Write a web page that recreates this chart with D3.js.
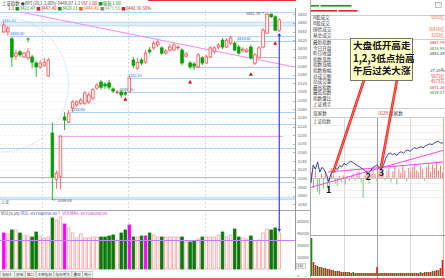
<html>
<head>
<meta charset="utf-8">
<script src="https://d3js.org/d3.v7.min.js"></script>
<style>
  body { margin: 0; background: #fff; }
  svg { display: block; font-family: "Noto Sans CJK SC", "Noto Sans", sans-serif; }
</style>
</head>
<body>
<script>
// ---------- 日K数据 ----------
var kOpen  = [3439,3439,3423,3383,3393,3381,3379,3381,3367,3358,3362,3337,3205,3098,3105,3242,3230,3263,3270,3274,3274,3277,3286,3309,3323,3318,3321,3307,3298,3300,3298,3300,3374,3355,3374,3369,3397,3402,3409,3402,3390,3397,3397,3402,3397,3383,3367,3365,3358,3379,3367,3381,3393,3404,3420,3404,3413,3413,3404,3395,3393,3404,3367,3379,3404,3436,3480,3474,3443];
var kClose = [3455,3448,3381,3390,3386,3390,3393,3369,3358,3367,3369,3374,3103,3112,3198,3235,3251,3277,3277,3281,3298,3293,3305,3316,3311,3314,3311,3302,3300,3293,3295,3332,3362,3369,3367,3390,3393,3413,3416,3390,3395,3404,3409,3404,3367,3388,3358,3360,3386,3367,3381,3402,3402,3409,3404,3420,3425,3397,3390,3399,3397,3379,3386,3402,3443,3480,3474,3443,3467];
var kHigh  = [3462,3453,3427,3397,3397,3393,3402,3386,3372,3374,3379,3379,3230,3118,3200,3253,3258,3281,3281,3286,3302,3300,3309,3321,3328,3323,3328,3311,3305,3305,3302,3337,3381,3379,3379,3397,3404,3418,3420,3406,3399,3411,3413,3409,3402,3393,3372,3369,3390,3383,3386,3406,3406,3413,3425,3425,3430,3418,3409,3404,3402,3409,3390,3406,3448,3482.79,3482,3478,3471];
var kLow   = [3436,3430,3358,3374,3381,3379,3374,3355,3335,3353,3358,3335,3049.88,3076,3075,3212,3228,3253,3265,3270,3270,3272,3281,3305,3305,3307,3305,3298,3295,3286,3291,3298,3355,3351,3362,3365,3388,3397,3404,3386,3386,3393,3395,3397,3362,3379,3353,3351,3355,3362,3365,3379,3388,3399,3399,3402,3409,3395,3386,3393,3390,3374,3362,3376,3402,3434,3471,3441,3439];
var kVol   = [459,447,498,498,459,434,421,408,472,421,396,408,651,625,663,574,523,459,396,447,396,396,408,408,408,408,421,434,370,459,498,561,408,408,421,421,459,434,408,408,408,408,408,408,408,345,345,357,383,408,408,408,408,434,472,408,434,510,408,396,383,421,357,370,459,510,498,523,459]; // 百万
var volHot = [0, 15, 31, 35];
var volRef = 370;
var priceTicks = d3.range(3040, 3481, 20);
var volTicks = [150, 300, 450, 600];
var monthStart = [10, 31, 50];

// 支撑/压力线
var blueLv    = [3485.5, 3430.3, 3418.61, 3332.13, 3300.86, 3253.86, 3226, 3170, 3091.5];
var blueFrom  = [null, 2, 58, 31, 29, 17, null, null, null];
var blueLabel = ["", "3430.30", "3418.61", "3332.13", "3300.86", "3253.86", "", "", ""];
var bandTop = [3461.61, 3055];
var bandBot = [3453, 3050.5];
var pinkLv = [3198, 3358];
var pinkFrom = [14, 47];
var grayLv = [3103, 3381];
var grayFrom = [null, 61];
var trendIdx = [4.2, 71.7];
var trendPrice = [3485, 3358];
var ringCenter = [-0.75, 3318];
var ringRadius = [16.7, 157];
var upMarkIdx = [30, 46, 61, 67];
var upMarkPrice = [3283, 3323, 3341, 3413];
var dnMarkIdx = [6];
var dnMarkPrice = [3421];

var titleRow1 = ["上证指数", " ◆BYT(20,1,1,005) 3448.07 1.1", "  VIZ 1.00", "  ■强弱 1.00"];
var titleRow2 = ["1.1 ", "■3421.47 ", "■3447.40 ", "■3420.11 ", "■3444.40 ", "■3471.55 ", "■3440.36 50%"];
var volTitle = ["VOL(5,10) ", "VOL: 457346058.00", "↑ ", "VOLMA5: 457346058.00"];
var tabs = ["指标A", "模板", "窗口", "主图指标", "指标用法", "叠加", "统计"];

// ---------- 右侧行情表 ----------
var statTop = ["A股成交", "B股成交", "国债成交", "基金成交"];
var statTopVal = ["5861亿", "", "16416亿", "3292亿"];
var statMain = ["最新指数", "今日开盘", "昨日收盘", "指数涨跌", "指数涨幅", "指数振幅", "总成交额", "总成交量", "最高指数", "最低指数", "指数量比", "上证换手"];
var statMainVal = ["3467.79", "3435.95", "3443.29", "", "", "27.35%", "5671亿", "4573万", "3471.26", "3439.87", "", ""];
var statMainDir = [1, -1, 0, 0, 0, 0, 1, 1, 1, -1, 0, 0];
var upCount = 1629;
var greenBar = [200, 775];
var redBar = [650, 475];

// ---------- 分时 ----------
var prevClose = 3443.4;
var iPrice = [3440.0,3452.4,3449.5,3454.4,3447.5,3450.8,3449.0,3446.0,3441.0,3445.8,3448.5,3450.3,3449.2,3452.0,3451.0,3453.5,3452.3,3453.8,3455.0,3454.2,3453.0,3452.0,3451.2,3450.0,3449.0,3447.8,3446.5,3448.2,3450.5,3451.5,3452.4,3450.5,3449.6,3452.6,3457.0,3459.8,3460.7,3459.5,3460.2,3459.0,3460.8,3461.5,3460.5,3462.0,3462.7,3461.8,3463.0,3464.3,3463.6,3464.5,3465.0,3464.2,3465.6,3466.2,3467.0,3466.4,3467.4,3468.3,3468.6,3467.5,3467.6]; // 每4分钟
var breadth = [10,-18,14,-25,-30,8,-20,12,-15,-22,18,6,-10,-14,4,-8,5,-12,3,-6,4,8,-5,10,12,-8,-36,6,14,-10,9,16,8,-6,12,20,10,-4,14,18,-8,12,22,-12,16,10,24,14,-6,18,12,20,26,14,10,22,16,-5,20,28,12,24,18,30,14,22,10];
var iVol = [-38,14,-11,10,-9,9,-8,8,-7,7,6,-6,5,-5,5,4,-4,4,-4,4,3,-4,3,-3,3,3,-3,3,-3,3,3,-3,3,9,-3,3,-3,3,3,-3,3,3,-3,3,-3,3,3,-3,3,-3,3,3,-3,3,3,-4,3,4,-4,4,4,-5,5,6,-6,8,16];
var iTrendA = [[0, 3437], [240, 3462.4]];
var iTrendB = [[31, 3447.5], [240, 3454.4]];
var lowMin = [32, 104, 128];
var lowLabelPrice = [3435.1, 3444.3, 3447.2];
var lowText = ["1", "2", "3"];
var calloutMin = [40, 127];
var calloutPrice = [3446.9, 3450.3];
var calloutText = ["大盘低开高走", "1,2,3低点抬高", "午后过关大涨"];

// =====================================================
var svg = d3.select("body").append("svg")
    .attr("width", 445).attr("height", 280);
svg.append("rect").attr("width", 445).attr("height", 280).attr("fill", "#fff");

var upC = "#ff4a4a", dnC = "#00a000", lvBlue = "#a9d0f5";

var x = d3.scaleBand().domain(d3.range(kOpen.length)).range([1, 282]).padding(0.36);
function cx(i) { return x(i) + x.bandwidth() / 2; }
var xi = d3.scaleLinear().domain([0, kOpen.length - 1]).range([cx(0), cx(kOpen.length - 1)]);
var y = d3.scaleLinear().domain([3040, 3490]).range([204.3, 9.9]);
var yv = d3.scaleLinear().domain([0, 740]).range([269, 211]);

svg.append("clipPath").attr("id", "mainClip")
    .append("rect").attr("x", 0).attr("y", 8).attr("width", 295).attr("height", 202);
svg.append("clipPath").attr("id", "volClip")
    .append("rect").attr("x", 0).attr("y", 211).attr("width", 295).attr("height", 59);

// 顶部红线
svg.append("line").attr("x1", 148).attr("x2", 296).attr("y1", 0.5).attr("y2", 0.5)
    .attr("stroke", "#e03030").attr("stroke-width", 1.2);

function rich(xp, yp, parts, cols, size) {
    var t = svg.append("text").attr("x", xp).attr("y", yp).style("font-size", size + "px");
    parts.forEach(function(p, k) { t.append("tspan").attr("fill", cols[k]).text(p); });
    return t;
}
rich(2, 5, titleRow1, ["#333", "#444", "#e02020", "#189018"], 4.4);
rich(8, 9.6, titleRow2, ["#333", "#189018", "#e02020", "#189018", "#e07010", "#888", "#e02020"], 4.4);

var main = svg.append("g").attr("clip-path", "url(#mainClip)");

// 网格
main.selectAll(".grid").data(priceTicks).enter().append("line")
    .attr("x1", 0).attr("x2", 295)
    .attr("y1", function(d) { return Math.round(y(d)) + 0.5; })
    .attr("y2", function(d) { return Math.round(y(d)) + 0.5; })
    .attr("stroke", "#f1f1f1").attr("stroke-dasharray", "2,2");

// 月份分隔虚线
svg.selectAll(".month").data(monthStart).enter().append("line")
    .attr("x1", function(d) { return Math.round(x(d) - 0.5) + 0.5; })
    .attr("x2", function(d) { return Math.round(x(d) - 0.5) + 0.5; })
    .attr("y1", 10).attr("y2", 270)
    .attr("stroke", "#cfcfcf").attr("stroke-dasharray", "2,2").attr("stroke-width", 0.8);

// 浅蓝带
bandTop.forEach(function(t, k) {
    main.append("rect").attr("x", 0).attr("width", 295)
        .attr("y", y(t)).attr("height", y(bandBot[k]) - y(t))
        .attr("fill", "#e3f0fd").attr("stroke", lvBlue).attr("stroke-width", 0.8);
});
svg.append("text").attr("x", 2).attr("y", y(bandTop[0]) - 0.6).style("font-size", "4px")
    .attr("fill", "#5a8fd0").text(d3.format(".2f")(bandTop[0]));

// 蓝色水平线
blueLv.forEach(function(p, k) {
    var x0 = blueFrom[k] === null ? 0 : x(blueFrom[k]) - 1;
    var yy = Math.round(y(p)) + 0.5;
    main.append("line").attr("x1", x0).attr("x2", 295).attr("y1", yy).attr("y2", yy)
        .attr("stroke", lvBlue).attr("stroke-width", 1.1);
    if (blueLabel[k]) {
        main.append("rect").attr("x", x0).attr("y", yy - 5).attr("width", 13).attr("height", 4.2)
            .attr("fill", "#e8f2fd");
        main.append("text").attr("x", x0 + 0.5).attr("y", yy - 1.6).style("font-size", "3.9px")
            .attr("fill", "#4f86c9").text(blueLabel[k]);
    }
});
pinkLv.forEach(function(p, k) {
    var yy = Math.round(y(p)) + 0.5;
    main.append("line").attr("x1", x(pinkFrom[k]) - 1).attr("x2", k === 0 ? 283 : cx(68))
        .attr("y1", yy).attr("y2", yy).attr("stroke", "#f7a6f0").attr("stroke-width", 1);
});
grayLv.forEach(function(p, k) {
    var yy = Math.round(y(p)) + 0.5;
    main.append("line").attr("x1", grayFrom[k] === null ? 0 : x(grayFrom[k]) - 1)
        .attr("x2", grayFrom[k] === null ? 295 : cx(68))
        .attr("y1", yy).attr("y2", yy).attr("stroke", "#b8b8b8").attr("stroke-width", 1);
});

// 虚线圆
var ring = d3.range(0, 361, 3).map(function(a) {
    var t = a * Math.PI / 180;
    return [xi(ringCenter[0] + ringRadius[0] * Math.cos(t)), y(ringCenter[1] + ringRadius[1] * Math.sin(t))];
});
main.append("path").attr("d", d3.line()(ring)).attr("fill", "none")
    .attr("stroke", "#9cc7ef").attr("stroke-width", 0.8).attr("stroke-dasharray", "1,1.5");

// 下降趋势线
main.append("line")
    .attr("x1", xi(trendIdx[0])).attr("y1", y(trendPrice[0]))
    .attr("x2", xi(trendIdx[1])).attr("y2", y(trendPrice[1]))
    .attr("stroke", "#f08cf0").attr("stroke-width", 1);

// K线
var k = main.selectAll(".k").data(kOpen).enter().append("g");
k.append("line")
    .attr("x1", function(d, i) { return cx(i); }).attr("x2", function(d, i) { return cx(i); })
    .attr("y1", function(d, i) { return y(kHigh[i]); }).attr("y2", function(d, i) { return y(kLow[i]); })
    .attr("stroke", function(d, i) { return kClose[i] >= kOpen[i] ? upC : dnC; }).attr("stroke-width", 0.8);
k.append("rect")
    .attr("x", function(d, i) { return x(i); })
    .attr("y", function(d, i) { return y(Math.max(kOpen[i], kClose[i])); })
    .attr("width", x.bandwidth())
    .attr("height", function(d, i) { return Math.max(0.8, Math.abs(y(kOpen[i]) - y(kClose[i]))); })
    .attr("fill", function(d, i) { return kClose[i] >= kOpen[i] ? "#fff" : dnC; })
    .attr("stroke", function(d, i) { return kClose[i] >= kOpen[i] ? upC : dnC; })
    .attr("stroke-width", 0.8);

// 标记
upMarkIdx.forEach(function(i, n) {
    var px = cx(i), py = y(upMarkPrice[n]);
    main.append("path").attr("d", "M" + px + "," + (py - 2) + "L" + (px + 2) + "," + (py + 1.5) + "L" + (px - 2) + "," + (py + 1.5) + "Z")
        .attr("fill", "#e80000");
});
dnMarkIdx.forEach(function(i, n) {
    var px = cx(i), py = y(dnMarkPrice[n]);
    main.append("path").attr("d", "M" + px + "," + (py - 2.5) + "L" + (px + 2) + "," + py + "L" + (px - 2) + "," + py + "Z")
        .attr("fill", "#20b020");
    main.append("line").attr("x1", px).attr("x2", px).attr("y1", py).attr("y2", py + 2.5)
        .attr("stroke", "#20b020").attr("stroke-width", 1);
});

// 最高 / 最低价标注
var hiIdx = d3.maxIndex(kHigh), loIdx = d3.minIndex(kLow);
svg.append("text").attr("x", cx(hiIdx) - 3).attr("y", y(kHigh[hiIdx]) + 1.5)
    .attr("text-anchor", "end").style("font-size", "4px").attr("fill", "#555")
    .text(d3.format(".2f")(kHigh[hiIdx]) + "→");
svg.append("text").attr("x", cx(loIdx) + 1).attr("y", y(kLow[loIdx]) + 2)
    .style("font-size", "4px").attr("fill", "#555")
    .text("←" + d3.format(".2f")(kLow[loIdx]));
svg.append("text").attr("x", 1).attr("y", 204).style("font-size", "4px").attr("fill", "#666").text("上证");

// 主图/量图分隔
svg.append("line").attr("x1", 0).attr("x2", 310).attr("y1", 210.5).attr("y2", 210.5).attr("stroke", "#a8a8a8");

// 成交量
rich(1, 214.6, volTitle, ["#333", "#3344bb", "#e02020", "#d030d0"], 4.2);
var vg = svg.append("g").attr("clip-path", "url(#volClip)");
vg.selectAll(".v").data(kVol).enter().append("rect")
    .attr("x", function(d, i) { return x(i); })
    .attr("y", function(d) { return yv(d); })
    .attr("width", x.bandwidth())
    .attr("height", function(d) { return yv(0) - yv(d); })
    .attr("fill", function(d, i) {
        if (volHot.indexOf(i) >= 0) return "#ff00ff";
        return kClose[i] >= kOpen[i] ? "#fff" : "#0a7a0a";
    })
    .attr("stroke", function(d, i) {
        if (volHot.indexOf(i) >= 0) return "#ff00ff";
        return kClose[i] >= kOpen[i] ? "#ff9c9c" : "#0a7a0a";
    })
    .attr("stroke-width", 0.8);
vg.append("line").attr("x1", 0).attr("x2", 295)
    .attr("y1", Math.round(yv(volRef)) + 0.5).attr("y2", Math.round(yv(volRef)) + 0.5)
    .attr("stroke", "#c77dff").attr("stroke-width", 1);

// 蓝色箭头
var ax = cx(kOpen.length - 1), aTop = y(kLow[kOpen.length - 1]) + 1, aBot = yv(kVol[kVol.length - 1]) - 1;
svg.append("line").attr("x1", ax).attr("x2", ax).attr("y1", aTop + 2).attr("y2", aBot - 2)
    .attr("stroke", "#2b2bff").attr("stroke-width", 1.1);
svg.append("path").attr("d", "M" + ax + "," + aTop + "L" + (ax + 1.8) + "," + (aTop + 3) + "L" + (ax - 1.8) + "," + (aTop + 3) + "Z").attr("fill", "#2b2bff");
svg.append("path").attr("d", "M" + ax + "," + aBot + "L" + (ax + 1.8) + "," + (aBot - 3) + "L" + (ax - 1.8) + "," + (aBot - 3) + "Z").attr("fill", "#2b2bff");

// 右侧坐标
svg.append("line").attr("x1", 295.5).attr("x2", 295.5).attr("y1", 8).attr("y2", 270).attr("stroke", "#999");
svg.selectAll(".pt").data(priceTicks).enter().append("line")
    .attr("x1", 293).attr("x2", 295.5)
    .attr("y1", function(d) { return Math.round(y(d)) + 0.5; }).attr("y2", function(d) { return Math.round(y(d)) + 0.5; })
    .attr("stroke", "#999").attr("stroke-width", 0.6);
svg.selectAll(".pl").data(priceTicks).enter().append("text")
    .attr("x", 297.5).attr("y", function(d) { return y(d) + 1.5; })
    .style("font-size", "4.2px").attr("fill", "#666").text(function(d) { return d; });
svg.selectAll(".vl").data(volTicks).enter().append("text")
    .attr("x", 297).attr("y", function(d) { return yv(d) + 1.4; })
    .style("font-size", "3.6px").attr("fill", "#666").text(function(d) { return d * 1000; });
svg.append("rect").attr("x", 296.5).attr("y", 263.5).attr("width", 9).attr("height", 5)
    .attr("fill", "#eee").attr("stroke", "#aaa").attr("stroke-width", 0.5);
svg.append("text").attr("x", 297.5).attr("y", 267.4).style("font-size", "3.5px").attr("fill", "#444").text("1分");
svg.append("text").attr("x", 297).attr("y", 277.5).style("font-size", "4.5px").attr("fill", "#444").text("+");
svg.append("text").attr("x", 305).attr("y", 277.5).style("font-size", "4.5px").attr("fill", "#444").text("-");

// 底部标签
var tabX = 0;
tabs.forEach(function(t, n) {
    var w = t.length * 3.6 + 3;
    svg.append("rect").attr("x", tabX + 0.5).attr("y", 271.5).attr("width", w).attr("height", 6)
        .attr("fill", "#f4f4f4").attr("stroke", "#aaa").attr("stroke-width", 0.5);
    svg.append("text").attr("x", tabX + 2).attr("y", 276).style("font-size", "3.6px")
        .attr("fill", n === 2 ? "#e02020" : "#444").text(t);
    tabX += w + 0.5;
});
svg.append("line").attr("x1", 0).attr("x2", 445).attr("y1", 279).attr("y2", 279)
    .attr("stroke", "#e03030").attr("stroke-width", 1.4);

// ---------- 右侧面板 ----------
svg.append("line").attr("x1", 310.5).attr("x2", 310.5).attr("y1", 0).attr("y2", 279).attr("stroke", "#aaa");
[15.5, 39.5, 108.5, 117.5].forEach(function(yy) {
    svg.append("line").attr("x1", 310).attr("x2", 445).attr("y1", yy).attr("y2", yy).attr("stroke", "#cfcfcf");
});
var segScale = d3.scaleLinear().domain([0, 1500]).range([0, 60]);
var gx = 311;
greenBar.forEach(function(v) {
    svg.append("rect").attr("x", gx).attr("y", 5).attr("width", segScale(v)).attr("height", 1.6).attr("fill", "#1a9a1a");
    gx += segScale(v) + 1.5;
});
var rx = 311;
redBar.forEach(function(v) {
    svg.append("rect").attr("x", rx).attr("y", 10).attr("width", segScale(v)).attr("height", 1.6).attr("fill", "#e82020");
    rx += segScale(v) + 1.5;
});
svg.append("rect").attr("x", 435.5).attr("y", 2.5).attr("width", 6).attr("height", 5)
    .attr("fill", "#f4f4f4").attr("stroke", "#999").attr("stroke-width", 0.6);

statTop.forEach(function(t, n) {
    var yy = 19 + n * 5.9;
    svg.append("text").attr("x", 313).attr("y", yy).style("font-size", "4.6px").attr("fill", "#444").text(t);
    svg.append("text").attr("x", 444.5).attr("y", yy).attr("text-anchor", "end")
        .style("font-size", "4.2px").attr("fill", "#e8622c").text(statTopVal[n]);
});
statMain.forEach(function(t, n) {
    var yy = 44 + n * 5.6;
    svg.append("text").attr("x", 313).attr("y", yy).style("font-size", "4.6px").attr("fill", "#444").text(t);
    svg.append("text").attr("x", 444.5).attr("y", yy).attr("text-anchor", "end")
        .style("font-size", "4.2px")
        .attr("fill", statMainDir[n] > 0 ? "#e82020" : statMainDir[n] < 0 ? "#189018" : "#333")
        .text(statMainVal[n]);
});
svg.append("text").attr("x", 313).attr("y", 114.6).style("font-size", "4.6px").attr("fill", "#444").text("涨家数");
svg.append("text").attr("x", 388).attr("y", 114.6).attr("text-anchor", "end").style("font-size", "4.6px")
    .attr("fill", "#e82020").text(upCount);
svg.append("text").attr("x", 389).attr("y", 114.6).style("font-size", "4.6px").attr("fill", "#444").text("跌家数");
svg.append("text").attr("x", 313).attr("y", 123).style("font-size", "4.4px").attr("fill", "#444").text("上证指数");

// 分时图
var xm = d3.scaleLinear().domain([0, 240]).range([311, 443]);
var yp = d3.scaleLinear().domain([3424.8, 3482]).range([205, 122]);
var yb = d3.scaleLinear().domain([-40, 40]).range([yp(prevClose) + 22, yp(prevClose) - 22]);
var xb = d3.scaleLinear().domain([0, breadth.length - 1]).range([311.5, 442.5]);
var yiv = d3.scaleLinear().domain([0, 40]).range([276, 236]);

yp.ticks(10).forEach(function(t) {
    var yy = Math.round(yp(t)) + 0.5;
    if (yy > 124 && yy < 204) svg.append("line").attr("x1", 311).attr("x2", 443).attr("y1", yy).attr("y2", yy).attr("stroke", "#eeeeee");
});
[60, 120, 180].forEach(function(m) {
    svg.append("line").attr("x1", Math.round(xm(m)) + 0.5).attr("x2", Math.round(xm(m)) + 0.5)
        .attr("y1", 118).attr("y2", 278).attr("stroke", m === 120 ? "#a0a0a0" : "#dadada");
});
svg.append("line").attr("x1", 443.5).attr("x2", 443.5).attr("y1", 118).attr("y2", 278).attr("stroke", "#f0b090");
svg.append("line").attr("x1", 310).attr("x2", 445).attr("y1", 235.5).attr("y2", 235.5).attr("stroke", "#aaa");

svg.selectAll(".br").data(breadth).enter().append("line")
    .attr("x1", function(d, i) { return xb(i); }).attr("x2", function(d, i) { return xb(i); })
    .attr("y1", yb(0)).attr("y2", function(d) { return yb(d); })
    .attr("stroke", function(d) { return d >= 0 ? "#f07070" : "#6fbf6f"; }).attr("stroke-width", 0.9);
svg.append("line").attr("x1", 311).attr("x2", 443)
    .attr("y1", Math.round(yp(prevClose)) + 0.5).attr("y2", Math.round(yp(prevClose)) + 0.5)
    .attr("stroke", "#bbb").attr("stroke-width", 0.8);

[iTrendA, iTrendB].forEach(function(tl) {
    svg.append("line").attr("x1", xm(tl[0][0])).attr("y1", yp(tl[0][1]))
        .attr("x2", xm(tl[1][0])).attr("y2", yp(tl[1][1]))
        .attr("stroke", "#ff44ee").attr("stroke-width", 1);
});
svg.append("path").datum(iPrice)
    .attr("d", d3.line().x(function(d, i) { return xm(i * 4); }).y(function(d) { return yp(d); }))
    .attr("fill", "none").attr("stroke", "#2a2a9a").attr("stroke-width", 0.9);

svg.selectAll(".iv").data(iVol).enter().append("rect")
    .attr("x", function(d, i) { return xb(i) - 0.8; })
    .attr("y", function(d) { return yiv(Math.abs(d)); })
    .attr("width", 1.6)
    .attr("height", function(d) { return yiv(0) - yiv(Math.abs(d)); })
    .attr("fill", function(d) { return d >= 0 ? "#e81818" : "#1a8a1a"; });

lowMin.forEach(function(m, n) {
    svg.append("text").attr("x", xm(m)).attr("y", yp(lowLabelPrice[n]) + 3.2)
        .attr("text-anchor", "middle").style("font-size", "9px").style("font-weight", "bold")
        .attr("fill", "#111").text(lowText[n]);
});

// 说明框 + 引线
var boxX = 350, boxY = 38, boxW = 62, boxH = 42;
var lineStart = [boxX + 14, boxX + 47];
calloutMin.forEach(function(m, n) {
    var x2 = xm(m), y2 = yp(calloutPrice[n]);
    svg.append("line").attr("x1", lineStart[n]).attr("y1", boxY + boxH).attr("x2", x2).attr("y2", y2)
        .attr("stroke", "#ff1a1a").attr("stroke-width", 2.6);
    svg.append("line").attr("x1", lineStart[n]).attr("y1", boxY + boxH).attr("x2", x2).attr("y2", y2)
        .attr("stroke", "#ff9a7a").attr("stroke-width", 0.7);
});
svg.append("rect").attr("x", boxX + 0.5).attr("y", boxY + 0.5).attr("width", boxW).attr("height", boxH)
    .attr("fill", "#ffffc4").attr("stroke", "#555").attr("stroke-width", 0.8);
calloutText.forEach(function(t, n) {
    svg.append("text").attr("x", boxX + 3).attr("y", boxY + 11 + n * 12.5)
        .style("font-size", "9.6px").style("font-weight", "bold").attr("fill", "#111").text(t);
});
</script>
</body>
</html>
